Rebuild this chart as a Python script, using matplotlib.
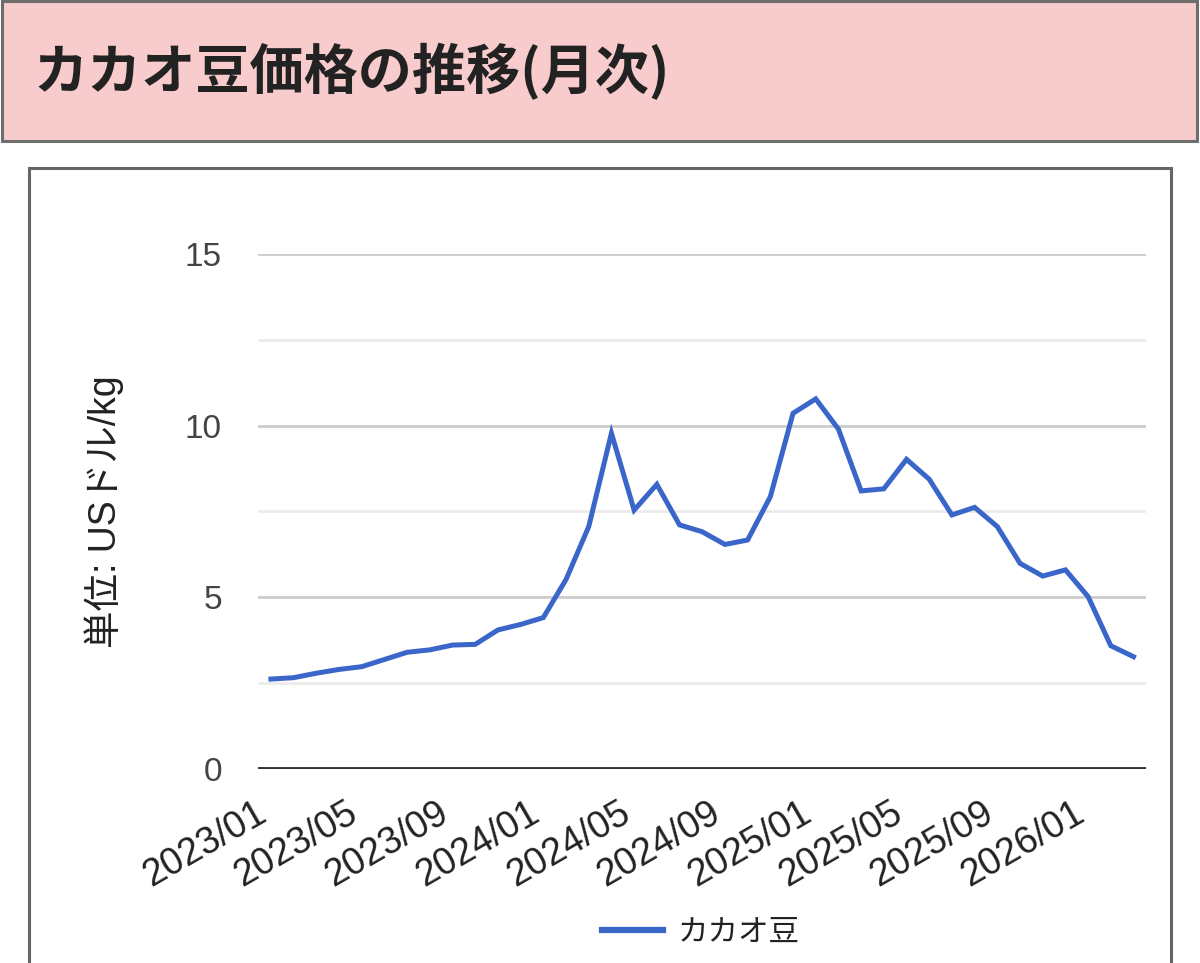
import matplotlib
matplotlib.use("Agg")
import matplotlib.pyplot as plt
from matplotlib.patches import Rectangle
from matplotlib.transforms import ScaledTranslation

plt.rcParams['font.family'] = ['Liberation Sans', 'Noto Sans CJK JP', 'DejaVu Sans']

# ---- data ----
months = []
for y in (2023, 2024, 2025, 2026):
    for m in range(1, 13):
        months.append(f"{y}/{m:02d}")
months = months[:39]  # 2023/01 .. 2026/03

prices = [2.62, 2.66, 2.79, 2.90, 2.98, 3.19, 3.40, 3.47, 3.61, 3.63,
          4.05, 4.21, 4.41, 5.52, 7.06, 9.78, 7.54, 8.29, 7.11, 6.91,
          6.54, 6.67, 7.93, 10.36, 10.78, 9.90, 8.10, 8.16, 9.02, 8.44,
          7.40, 7.62, 7.06, 5.99, 5.62, 5.80, 5.02, 3.59, 3.27]

tick_labels = ["2023/01", "2023/05", "2023/09", "2024/01", "2024/05",
               "2024/09", "2025/01", "2025/05", "2025/09", "2026/01"]
y_ticks = [0, 5, 10, 15]
title = "カカオ豆価格の推移(月次)"
y_label = "単位: USドル/kg"
series_name = "カカオ豆"

W, H = 1200, 963
fig = plt.figure(figsize=(W / 100, H / 100), dpi=100)
fig.patch.set_facecolor("white")

def fx(px):
    return px / W

def fy(py):
    return 1 - py / H

# title band
fig.add_artist(Rectangle((fx(1.5), fy(141)), fx(1197) - fx(1.5), fy(1.5) - fy(141),
                         transform=fig.transFigure, facecolor="#f8cccd",
                         edgecolor="#6e6e6e", linewidth=2.2, zorder=0))
fig.text(fx(34), fy(72), title, fontsize=39, fontweight="bold",
         color="#222222", va="center", ha="left",
         family=['Noto Sans CJK JP', 'DejaVu Sans'])

# chart panel
fig.add_artist(Rectangle((fx(28.5), fy(1010)), fx(1171) - fx(28.5), fy(168.5) - fy(1010),
                         transform=fig.transFigure, facecolor="white",
                         edgecolor="#666666", linewidth=2.2, zorder=0, clip_on=False))

# axes
left, right = 258, 1146
top, bottom = 254, 769
ax = fig.add_axes([fx(left), fy(bottom), fx(right) - fx(left), fy(top) - fy(bottom)])
ax.set_facecolor("none")

x = list(range(len(prices)))
ax.set_xlim(-0.57, len(prices) - 1 + 0.55)
ax.set_ylim(0, 15)

# gridlines
for v in [2.5, 7.5, 12.5]:
    ax.axhline(v, color="#ebebeb", linewidth=2.0, zorder=1)
for v in [5, 10, 15]:
    ax.axhline(v, color="#cccccc", linewidth=2.0, zorder=1)
ax.axhline(0, color="#333333", linewidth=2.8, zorder=3)

ax.plot(x, prices, color="#3b66c9", linewidth=3.6, solid_joinstyle="miter",
        zorder=4, label=series_name)

for s in ax.spines.values():
    s.set_visible(False)

ax.set_yticks(y_ticks)
ax.set_yticklabels([str(v) for v in y_ticks], fontsize=24, color="#444444")
ax.tick_params(axis="y", length=0, pad=26)

tick_pos = [months.index(t) for t in tick_labels]
ax.set_xticks(tick_pos)
ax.set_xticklabels(tick_labels, fontsize=27, color="#222222", rotation=30,
                   ha="right", va="top", rotation_mode="anchor")
ax.tick_params(axis="x", length=0, pad=19)
shift = ScaledTranslation(-16 / 100, 0, fig.dpi_scale_trans)
for lab in ax.get_xticklabels():
    lab.set_transform(lab.get_transform() + shift)

fig.text(fx(104), fy(512), y_label, fontsize=27, color="#222222",
         rotation=90, va="center", ha="center")

leg = fig.legend(loc="center", bbox_to_anchor=(fx(701), fy(932)),
                 frameon=False, handlelength=2.0,
                 handletextpad=0.5, prop={'family': ['Noto Sans CJK JP'], 'size': 22})
for line in leg.get_lines():
    line.set_linewidth(4.5)
for t in leg.get_texts():
    t.set_color("#222222")

fig.savefig("out.png", dpi=100, facecolor="white")
